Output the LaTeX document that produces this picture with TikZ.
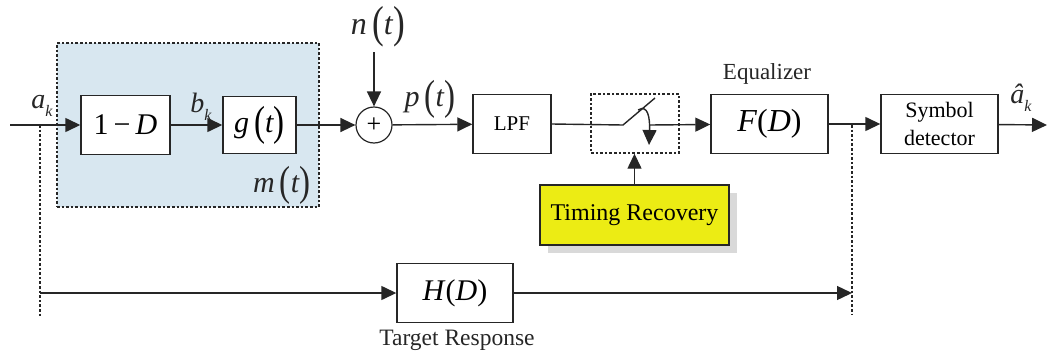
\documentclass[tikz,border=0pt]{standalone}
\usepackage{graphicx}
\usepackage{fontspec}
\setmainfont{Liberation Serif}
\usetikzlibrary{arrows.meta,calc}
\definecolor{ln}{HTML}{262626}
\definecolor{bluefill}{HTML}{D8E7F0}
\definecolor{yel}{HTML}{ECEC14}
\newcommand\lpa{\,\raisebox{-0.1em}{\scalebox{1.1}[1.4]{(}}}
\newcommand\rpa{\raisebox{-0.1em}{\scalebox{1.1}[1.4]{)}}}
\newcommand\fs[1]{\fontsize{#1}{#1}\selectfont}
\begin{document}
\begin{tikzpicture}[x=1pt,y=-1pt,
  blk/.style={draw=ln, line width=1.4pt, fill=white, inner sep=0pt, minimum height=59pt},
  conn/.style={draw=ln, line width=1.4pt},
  arr/.style={conn, -{Triangle[length=15pt,width=14pt]}},
  dline/.style={draw=ln, line width=1.6pt, dash pattern=on 2.6pt off 2pt},
  lbl/.style={inner sep=0pt, text=ln}]
\useasboundingbox (0,0) rectangle (1048,356);
% channel box
\node[dline, fill=bluefill, minimum width=262pt, minimum height=164pt, inner sep=0pt] (chan) at (188,125) {};
% switch box
\node[dline, line width=1.4pt, minimum width=88pt, minimum height=59pt, inner sep=0pt] (swbox) at (635,123.5) {};
% blocks
\node[blk, minimum width=89pt] (oneD) at (125.5,125) {\fs{30}1\,−\,\textit{D}};
\node[blk, minimum width=73pt, minimum height=57pt] (g) at (259.5,125) {\fs{30}\textit{g}\lpa\textit{t}\rpa};
\node[draw=ln, line width=1.2pt, circle, minimum size=36pt, inner sep=0pt, fill=white] (sum) at (374,125) {\fs{26}+};
\node[blk, minimum width=78pt] (lpf) at (512,124) {\fs{21}LPF};
\node[blk, minimum width=117pt] (fd) at (769.5,124) {\fs{32}\textit{F}(\textit{D})};
\node[blk, minimum width=117pt, align=center, font=\fontsize{22}{28}\selectfont] (sym) at (939.5,124) {Symbol\\detector};
\fill[gray!30] (548,193) rectangle (737,253);
\node[blk, fill=yel, minimum width=189pt, minimum height=60pt] (tim) at (634.5,215) {\fs{24}Timing Recovery};
\node[blk, minimum width=116pt] (hd) at (455,293) {\fs{30}\textit{H}(\textit{D})};
% coordinates
\coordinate (in) at (10,125);
\coordinate (split) at (40,125);
\coordinate (splitend) at (40,318);
\coordinate (bl) at (40,293);
\coordinate (nsrc) at (374,52);
\coordinate (sw1) at (623,125);
\coordinate (sw2) at (655,98);
\coordinate (swout) at (649,125);
\coordinate (tap) at (852,125);
\coordinate (tapin) at (852,293);
\coordinate (tapend) at (852,315);
\coordinate (out) at (1047,125);
% connectors
\draw[arr] (in) -- (oneD);
\draw[arr] (oneD) -- (g);
\draw[arr] (g) -- (sum);
\draw[arr] (nsrc) -- (sum);
\draw[arr] (sum) -- (lpf);
\draw[conn] (lpf.east) -- (sw1) -- (sw2);
\draw[arr] (638,110) .. controls (648,104) and (650,118) .. (649,145);
\draw[arr] (swout) -- (fd);
\draw[arr] (tim.north) -- (tim.north |- swbox.south);
\draw[arr] (fd) -- (sym);
\draw[arr] (sym) -- (out);
\draw[dline] (split) -- (splitend);
\draw[dline] (tap) -- (tapend);
\draw[arr] (bl) -- (hd);
\draw[arr] (hd) -- (tapin);
% labels
\node[lbl] (ak) at (42,106) {\fs{28}\textit{a}\raisebox{-0.3em}{\fs{16}\textit{k}}};
\node[lbl] (bk) at (201,107) {\fs{28}\textit{b}\raisebox{-0.3em}{\fs{16}\textit{k}}};
\node[lbl] (mt) at (282,185) {\fs{30}\textit{m}\lpa\textit{t}\rpa};
\node[lbl] (nt) at (378,27) {\fs{32}\textit{n}\lpa\textit{t}\rpa};
\node[lbl] (pt) at (430,99) {\fs{30}\textit{p}\lpa\textit{t}\rpa};
\node[lbl] (eq) at (767,74) {\fs{23}Equalizer};
\node[lbl] (ahat) at (1021,98) {\fs{28}\textit{â}\raisebox{-0.3em}{\fs{16}\textit{k}}};
\node[lbl] (tr) at (457,340) {\fs{23.5}Target Response};
\end{tikzpicture}
\end{document}
